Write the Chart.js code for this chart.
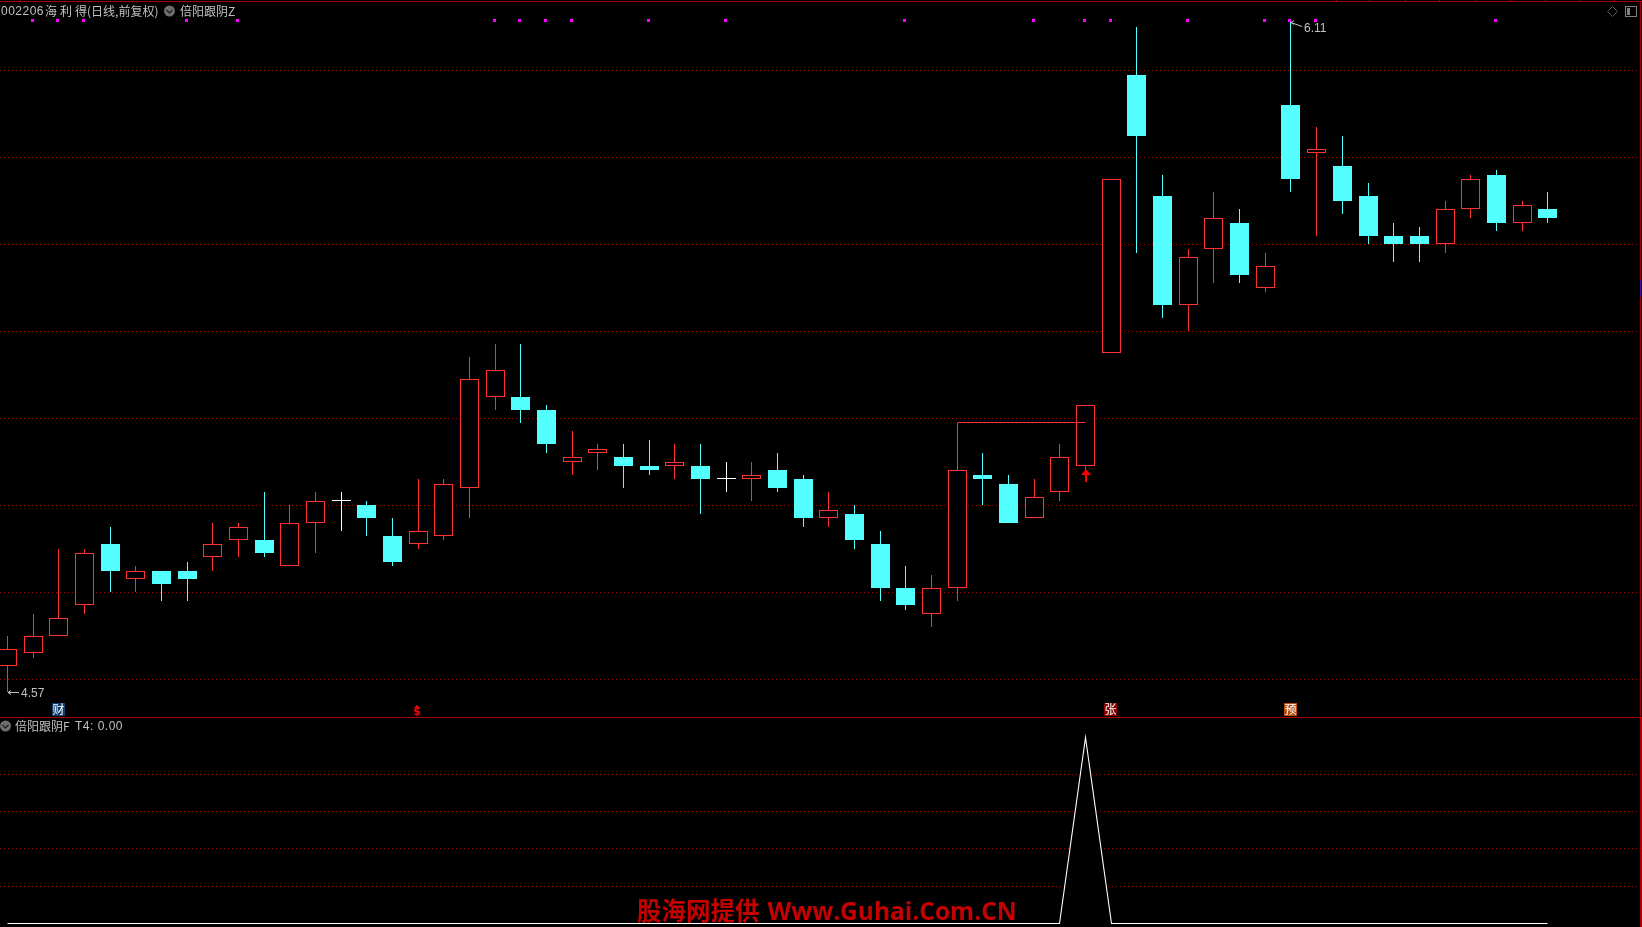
<!DOCTYPE html>
<html>
<head>
<meta charset="utf-8">
<title>倍阳跟阴</title>
<script src="https://cdn.jsdelivr.net/npm/chart.js"></script>
<style>
  html, body { margin: 0; background: #000; overflow: hidden; }
  #page { position: relative; width: 1642px; height: 927px; }
  canvas { position: absolute; left: 0; display: block; }
  #priceChart { top: 0; }
  #signalChart { top: 718px; }
  .lbl { position: absolute; white-space: nowrap; color: #c0c0c0; font: 12px/14px "Noto Sans CJK SC", sans-serif; }
  .num { font-family: "Liberation Sans", sans-serif; font-size: 12px; letter-spacing: 0.5px; }
  #mark { position: absolute; left: 637px; top: 895px; color: #c40000; font: bold 24.5px/30px "Noto Sans CJK SC", sans-serif; white-space: nowrap; }
  #mark span { font: bold 24.5px/30px "Open Sans", sans-serif; margin-left: 8px; }
</style>
</head>
<body>
<div id="page">
  <canvas id="priceChart" width="1642" height="718"></canvas>
  <canvas id="signalChart" width="1642" height="209"></canvas>
  <div class="lbl num" style="left:1px;top:4px">002206</div>
  <div class="lbl" style="left:45px;top:4px;letter-spacing:3px">海利得</div>
  <div class="lbl" style="left:87px;top:4px">(日线,前复权)</div>
  <div class="lbl" style="left:180px;top:4px">倍阳跟阴Z</div>
  <div class="lbl" style="left:15px;top:719px">倍阳跟阴F</div>
  <div class="lbl num" style="left:75px;top:719px">T4: 0.00</div>
  <div id="mark">股海网提供<span>Www.Guhai.Com.CN</span></div>
</div>
<script>
const opens = [4.63,4.66,4.70,4.77,4.91,4.83,4.85,4.85,4.88,4.92,
  4.92,4.86,4.96,5.01,5.00,4.93,4.91,4.93,5.04,5.25,
  5.25,5.22,5.10,5.12,5.11,5.09,5.09,5.09,5.06,5.06,
  5.08,5.06,4.97,4.98,4.91,4.81,4.75,4.81,5.07,5.05,
  4.97,5.03,5.09,5.35,5.99,5.71,5.46,5.59,5.65,5.50,
  5.92,5.81,5.78,5.71,5.62,5.62,5.60,5.68,5.76,5.65,5.68];
const closes = [4.67,4.70,4.74,4.89,4.85,4.85,4.82,4.83,4.91,4.95,
  4.89,4.96,5.01,5.01,4.97,4.87,4.94,5.05,5.29,5.31,
  5.22,5.14,5.11,5.13,5.09,5.08,5.10,5.06,5.06,5.07,
  5.04,4.97,4.99,4.92,4.81,4.77,4.81,5.08,5.06,4.96,
  5.02,5.11,5.23,5.75,5.85,5.46,5.57,5.66,5.53,5.55,
  5.75,5.82,5.70,5.62,5.60,5.60,5.68,5.75,5.65,5.69,5.66];
const highs = [4.70,4.75,4.90,4.90,4.95,4.86,4.85,4.87,4.96,4.96,
  5.03,5.00,5.03,5.03,5.01,4.97,5.06,5.06,5.34,5.37,
  5.37,5.23,5.17,5.14,5.14,5.15,5.14,5.14,5.10,5.10,
  5.12,5.07,5.03,5.00,4.94,4.86,4.84,5.19,5.12,5.07,
  5.06,5.14,5.23,5.75,6.10,5.76,5.59,5.72,5.68,5.58,
  6.11,5.87,5.85,5.74,5.65,5.64,5.70,5.76,5.77,5.70,5.72];
const lows = [4.57,4.65,4.70,4.75,4.80,4.80,4.78,4.78,4.85,4.88,
  4.88,4.86,4.89,4.94,4.93,4.86,4.90,4.92,4.97,5.22,
  5.19,5.12,5.07,5.08,5.04,5.07,5.06,4.98,5.03,5.01,
  5.03,4.95,4.95,4.90,4.78,4.76,4.72,4.78,5.00,4.96,
  4.97,5.01,5.08,5.35,5.58,5.43,5.40,5.51,5.51,5.49,
  5.72,5.62,5.67,5.60,5.56,5.56,5.58,5.66,5.63,5.63,5.65];
const t4Values = [0,0,0,0,0,0,0,0,0,0,
  0,0,0,0,0,0,0,0,0,0,
  0,0,0,0,0,0,0,0,0,0,
  0,0,0,0,0,0,0,0,0,0,
  0,0,1,0,0,0,0,0,0,0,
  0,0,0,0,0,0,0,0,0,0,0];

const priceTicks = [6.0,5.8,5.6,5.4,5.2,5.0,4.8,4.6];
const signalTicks = [0.8,0.6,0.4,0.2];

// magenta dots along the top of the price pane
const dotIndexes = [1,2,3,7,9,19,20,21,22,25,28,35,40,42,43,46,49,50,51,58];
const dotPrice = 6.115;
// the red step from the day 37 high across to day 42
const stepIndexes = [37,42];
const stepPrice = 5.19;
const arrowIndexes = [42];
const arrowPrice = 5.08;
const extremeIndexes = [0,50];
const extremePrices = [4.57,6.11];

const flagIndexes = [2,16,43,50];
const flagTexts = ['财','$','张','预'];
const flagColors = ['#0f3f73','','#8a0000','#b84c10'];

const topTickX = [20,1336,1369,1405,1439,1475,1510,1545,1579,1614];

const RED = '#ff3232';
const CYAN = '#54ffff';
const GRID = '#a00000';
const LINE = '#a80000';

const indexes = opens.map((v, i) => i);
function barColor(i) {
  if (opens[i] === closes[i]) return '#ffffff';
  return closes[i] > opens[i] ? RED : CYAN;
}
const colors = indexes.map(barColor);
const fills = indexes.map(i => closes[i] > opens[i] ? '#000000' : colors[i]);

// chart.js leaves bars on fractions of a pixel, this keeps them sharp
const snapPlugin = {
  id: 'snap',
  afterDatasetsUpdate(chart) {
    chart.getSortedVisibleDatasetMetas().forEach(meta => {
      const shift = meta._dataset.snapShift || 0;
      meta.data.forEach(el => {
        el.x = Math.floor(el.x) + 0.5 + shift;
        if (meta.type === 'bar') {
          el.y = Math.round(el.y);
          el.base = Math.round(el.base);
        } else {
          el.y = Math.floor(el.y) + 0.5;
        }
      });
    });
  }
};

function hline(ctx, x1, x2, y, color) {
  ctx.fillStyle = color;
  ctx.fillRect(x1, y, x2 - x1, 1);
}

function chevron(ctx, x, y) {
  ctx.fillStyle = '#6e6e6e';
  ctx.beginPath();
  ctx.arc(x, y, 5.5, 0, Math.PI * 2);
  ctx.fill();
  ctx.strokeStyle = '#1c1c1c';
  ctx.lineWidth = 1.2;
  ctx.beginPath();
  ctx.moveTo(x - 3, y - 1);
  ctx.lineTo(x, y + 2);
  ctx.lineTo(x + 3, y - 1);
  ctx.stroke();
}

const pricePaintPlugin = {
  id: 'pricePaint',
  afterDatasetsDraw(chart) {
    const ctx = chart.ctx;
    const xs = chart.scales.x;
    const ys = chart.scales.y;
    ctx.save();

    // highest and lowest price notes
    extremeIndexes.forEach((idx, n) => {
      const px = Math.floor(xs.getPixelForValue(idx)) + 1;
      const py = Math.floor(ys.getPixelForValue(extremePrices[n]));
      ctx.strokeStyle = '#c0c0c0';
      ctx.fillStyle = '#c0c0c0';
      ctx.lineWidth = 1;
      ctx.beginPath();
      ctx.moveTo(px, py + 0.5);
      ctx.lineTo(px + 3, py - 1.5);
      ctx.moveTo(px, py + 0.5);
      ctx.lineTo(px + 3, py + 2.5);
      ctx.moveTo(px, py + 0.5);
      ctx.lineTo(px + 11, py + (n ? 4.5 : 0.5));
      ctx.stroke();
      ctx.font = '12px "Liberation Sans", sans-serif';
      ctx.textBaseline = 'middle';
      ctx.textAlign = 'left';
      ctx.fillText(extremePrices[n].toFixed(2), px + 13, py + (n ? 7 : 2));
    });

    // buy arrow
    arrowIndexes.forEach(idx => {
      const px = Math.floor(xs.getPixelForValue(idx));
      const py = Math.round(ys.getPixelForValue(arrowPrice));
      ctx.fillStyle = '#ff0000';
      ctx.beginPath();
      ctx.moveTo(px + 1, py - 1);
      ctx.lineTo(px + 6, py + 5);
      ctx.lineTo(px - 4, py + 5);
      ctx.closePath();
      ctx.fill();
      ctx.fillRect(px, py + 5, 2, 7);
    });

    // news flags sitting on the pane divider
    flagIndexes.forEach((idx, n) => {
      const px = Math.round(xs.getPixelForValue(idx));
      ctx.textAlign = 'center';
      ctx.textBaseline = 'middle';
      if (flagTexts[n] === '$') {
        ctx.fillStyle = '#ff0000';
        ctx.beginPath();
        ctx.moveTo(px - 1, 705);
        ctx.lineTo(px + 2, 708);
        ctx.lineTo(px - 4, 708);
        ctx.closePath();
        ctx.fill();
        ctx.font = 'bold 11px "DejaVu Sans", sans-serif';
        ctx.fillText('$', px - 1, 712);
      } else {
        ctx.fillStyle = flagColors[n];
        ctx.fillRect(px - 7, 703, 13, 13);
        ctx.fillStyle = '#ffffff';
        ctx.font = '12px "Noto Sans CJK SC", sans-serif';
        ctx.fillText(flagTexts[n], px - 0.5, 709.5);
      }
    });

    // window frame
    hline(ctx, 0, 1642, 1, LINE);
    topTickX.forEach(x => ctx.fillRect(x, 0, 1, 1));
    hline(ctx, 0, 1642, 717, LINE);
    ctx.fillStyle = LINE;
    ctx.fillRect(1640, 1, 1, 717);
    ctx.fillStyle = '#5a00a0';
    ctx.fillRect(1640, 280, 1, 17);

    // top right buttons
    ctx.strokeStyle = '#5a5a5a';
    ctx.lineWidth = 1;
    ctx.beginPath();
    ctx.moveTo(1612.5, 6.5);
    ctx.lineTo(1617.5, 11.5);
    ctx.lineTo(1612.5, 16.5);
    ctx.lineTo(1607.5, 11.5);
    ctx.closePath();
    ctx.stroke();
    ctx.strokeStyle = '#808080';
    ctx.strokeRect(1625.5, 6.5, 11, 10);
    ctx.fillStyle = '#808080';
    ctx.fillRect(1627, 8, 3, 7);

    chevron(ctx, 169.5, 11);
    ctx.restore();
  }
};

const signalPaintPlugin = {
  id: 'signalPaint',
  afterDatasetsDraw(chart) {
    const ctx = chart.ctx;
    ctx.save();
    ctx.fillStyle = LINE;
    ctx.fillRect(1640, 0, 2, 209);
    chevron(ctx, 5.5, 8);
    ctx.restore();
  }
};

function pricePoints(idx, price) {
  return idx.map(i => ({ x: i, y: price }));
}

new Chart(document.getElementById('priceChart'), {
  type: 'bar',
  data: {
    datasets: [
      {
        type: 'line',
        data: pricePoints(stepIndexes, stepPrice),
        borderColor: RED,
        borderWidth: 1,
        pointRadius: 0,
        order: 1
      },
      {
        type: 'scatter',
        data: pricePoints(dotIndexes, dotPrice),
        pointStyle: 'rect',
        pointRadius: 2.13,
        pointBorderWidth: 0,
        pointBackgroundColor: '#ff00ff',
        snapShift: -1,
        order: 1
      },
      {
        data: indexes.map(i => ({ x: i, y: [opens[i], closes[i]] })),
        backgroundColor: fills,
        borderColor: colors,
        borderWidth: 1,
        borderSkipped: false,
        inflateAmount: 0,
        barThickness: 19,
        minBarLength: 1,
        grouped: false,
        order: 2
      },
      {
        data: indexes.map(i => ({ x: i, y: [lows[i], highs[i]] })),
        backgroundColor: colors,
        borderWidth: 0,
        inflateAmount: 0,
        barThickness: 1,
        grouped: false,
        order: 3
      }
    ]
  },
  options: {
    responsive: false,
    animation: false,
    events: [],
    plugins: { legend: { display: false }, tooltip: { enabled: false } },
    layout: { padding: 0, autoPadding: false },
    scales: {
      x: { type: 'linear', display: false, offset: false, min: -0.2922, max: 63.674 },
      y: {
        min: 4.511,
        max: 6.1616,
        afterBuildTicks: axis => { axis.ticks = priceTicks.map(value => ({ value })); },
        ticks: { display: false },
        border: { display: false, dash: [1, 3] },
        grid: { color: GRID, lineWidth: 1, drawTicks: false }
      }
    }
  },
  plugins: [snapPlugin, pricePaintPlugin]
});

new Chart(document.getElementById('signalChart'), {
  type: 'line',
  data: {
    labels: indexes,
    datasets: [{
      data: indexes.map(i => ({ x: i, y: t4Values[i] })),
      borderColor: '#ffffff',
      borderWidth: 1.1,
      pointRadius: 0,
      tension: 0,
      fill: 'origin',
      backgroundColor: '#000000'
    }]
  },
  options: {
    responsive: false,
    animation: false,
    events: [],
    plugins: { legend: { display: false }, tooltip: { enabled: false } },
    layout: { padding: 0, autoPadding: false },
    scales: {
      x: { type: 'linear', display: false, min: -0.2922, max: 63.674 },
      y: {
        min: -0.0199,
        max: 1.1038,
        afterBuildTicks: axis => { axis.ticks = signalTicks.map(value => ({ value })); },
        ticks: { display: false },
        border: { display: false, dash: [1, 3] },
        grid: { color: GRID, lineWidth: 1, drawTicks: false }
      }
    }
  },
  plugins: [snapPlugin, signalPaintPlugin]
});
</script>
</body>
</html>
